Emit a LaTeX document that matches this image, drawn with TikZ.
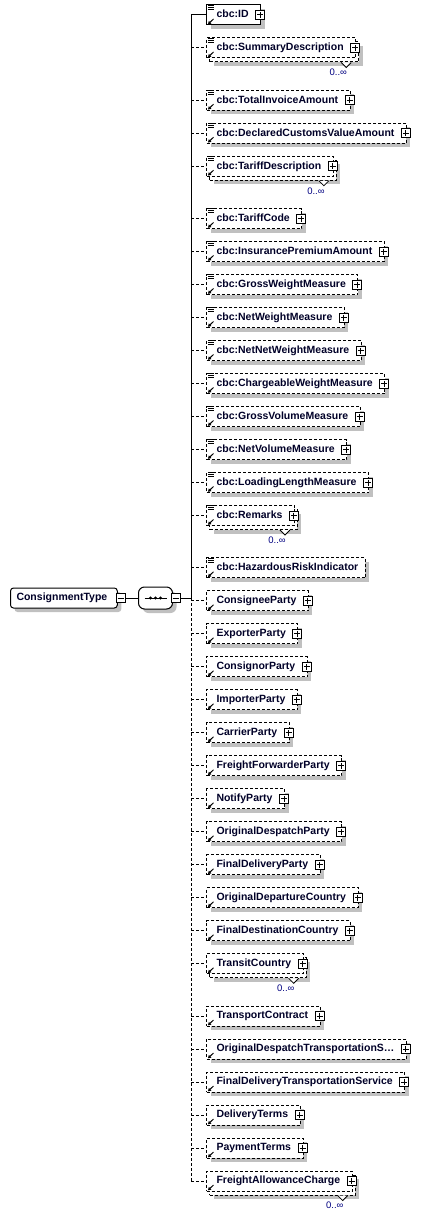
\documentclass[tikz,border=0pt]{standalone}
\usepackage{fontspec}
\setmainfont{Liberation Sans}
\usetikzlibrary{shadows,arrows.meta,calc}
\definecolor{shd}{RGB}{192,192,192}
\definecolor{navy}{RGB}{0,0,128}
\definecolor{txt}{RGB}{0,0,40}
\tikzset{
 conn/.style={line width=1pt, black},
 dconn/.style={conn, dash pattern=on 3pt off 2pt},
 ebox/.style={draw, fill=white, line width=1pt, rectangle, anchor=west, minimum height=20pt, inner xsep=0pt, inner ysep=0pt, text height=8pt, text depth=2.5pt, font=\bfseries\fontsize{10.5}{12}\selectfont, text=txt},
 dbox/.style={ebox, dash pattern=on 3pt off 2pt},
 sh/.style={drop shadow={shadow xshift=4pt, shadow yshift=-4pt, fill=shd, opacity=1}},
 pm/.style={draw, fill=white, line width=1pt, minimum size=9pt, inner sep=0pt},
 mult/.style={font=\fontsize{9.5}{10}\selectfont, text=navy, inner sep=0pt},
 icon/.style={line width=0.9pt, black},
}
\begin{document}
\begin{tikzpicture}[x=1pt,y=-1pt]
\useasboundingbox (0,0) rectangle (422,1215);
% root
\node[ebox, sh, rounded corners=3pt] (ct) at (10,598) {\kern6pt ConsignmentType\kern10pt};
\node[pm] (ctm) at (120.5,598) {};
\draw[conn] ($(ctm.center)+(-3,0)$) -- ($(ctm.center)+(3,0)$);
\node[draw, fill=white, line width=1pt, rounded corners=6pt, minimum width=34pt, minimum height=22pt, sh, anchor=west] (seq) at (138,598) {};
\draw[line width=1pt] ($(seq.center)+(-11,0)$) -- ($(seq.center)+(11,0)$);
\foreach \dx in {-5,0,5} \fill ($(seq.center)+(\dx,0)$) circle (1.7pt);
\node[pm] (sqm) at (175.5,598) {};
\draw[conn] ($(sqm.center)+(-3,0)$) -- ($(sqm.center)+(3,0)$);
\coordinate (sj) at (191,598);
\draw[conn] (ctm) -- (seq);
\draw[conn] (sqm) -- (sj);
% children
\foreach \i/\y/\t/\c/\m/\p in {
1/15/cbc:ID/1/0/1,
2/48/cbc:SummaryDescription/1/1/1,
3/100.25/cbc:TotalInvoiceAmount/1/0/1,
4/133.25/cbc:DeclaredCustomsValueAmount/1/0/1,
5/166.25/cbc:TariffDescription/1/1/1,
6/218.5/cbc:TariffCode/1/0/1,
7/251.5/cbc:InsurancePremiumAmount/1/0/1,
8/284.5/cbc:GrossWeightMeasure/1/0/1,
9/317.5/cbc:NetWeightMeasure/1/0/1,
10/350.5/cbc:NetNetWeightMeasure/1/0/1,
11/383.5/cbc:ChargeableWeightMeasure/1/0/1,
12/416.5/cbc:GrossVolumeMeasure/1/0/1,
13/449.5/cbc:NetVolumeMeasure/1/0/1,
14/482.5/cbc:LoadingLengthMeasure/1/0/1,
15/515.5/cbc:Remarks/1/1/1,
16/567.75/cbc:HazardousRiskIndicator/1/0/0,
17/600.75/ConsigneeParty/0/0/1,
18/633.75/ExporterParty/0/0/1,
19/666.75/ConsignorParty/0/0/1,
20/699.75/ImporterParty/0/0/1,
21/732.75/CarrierParty/0/0/1,
22/765.75/FreightForwarderParty/0/0/1,
23/798.75/NotifyParty/0/0/1,
24/831.75/OriginalDespatchParty/0/0/1,
25/864.75/FinalDeliveryParty/0/0/1,
26/897.75/OriginalDepartureCountry/0/0/1,
27/930.75/FinalDestinationCountry/0/0/1,
28/963.75/TransitCountry/0/1/1,
29/1016/TransportContract/0/0/1,
30/1049/OriginalDespatchTransportationS…/0/0/1,
31/1082/FinalDeliveryTransportationService/0/0/1,
32/1115/DeliveryTerms/0/0/1,
33/1148/PaymentTerms/0/0/1,
34/1181/FreightAllowanceCharge/0/1/1}{
  \coordinate (j\i) at (191,\y);
  \ifnum\p=1 \def\rp{12pt}\else\def\rp{7pt}\fi
  \ifnum\m=1
    \node[dbox, sh] (b\i) at (209,\y+4) {\kern10pt\phantom{\t}\kern\rp};
    \draw[line width=0.8pt, fill=white] ($(b\i.south east)+(-18,0)$) -- ($(b\i.south east)+(-13,5)$) -- ($(b\i.south east)+(-8,0)$);
    \node[mult, anchor=east] (m\i) at ($(b\i.south east)+(-12,10)$) {0..∞};
    \node[dbox] (e\i) at (206,\y) {\kern10pt\t\kern\rp};
  \else
    \ifnum\i=1
      \node[ebox, sh] (e\i) at (206,\y) {\kern10pt\t\kern\rp};
    \else
      \node[dbox, sh] (e\i) at (206,\y) {\kern10pt\t\kern\rp};
    \fi
  \fi
  \ifnum\i=1 \draw[conn] (j\i) -- (e\i); \else \draw[dconn] (j\i) -- (e\i); \fi
  \ifnum\c=1
    \foreach \dy in {0.8,2.8,4.8}
      \draw[icon] ($(e\i.north west)+(2,\dy)$) -- ++(6,0);
  \fi
  \draw[line width=1pt, -{Triangle[length=3pt,width=3.5pt]}] ($(e\i.south west)+(7.5,-6.5)$) -- ($(e\i.south west)+(2,-1.2)$);
  \ifnum\p=1
    \node[pm] (p\i) at ($(e\i.east)+(-1,0)$) {};
    \draw[line width=1pt] ($(p\i.center)+(-3,0)$) -- ($(p\i.center)+(3,0)$);
    \draw[line width=1pt] ($(p\i.center)+(0,-3)$) -- ($(p\i.center)+(0,3)$);
  \fi
}
\draw[conn] (j1) -- (sj);
\draw[dconn] (sj) -- (j34);
\end{tikzpicture}
\end{document}
